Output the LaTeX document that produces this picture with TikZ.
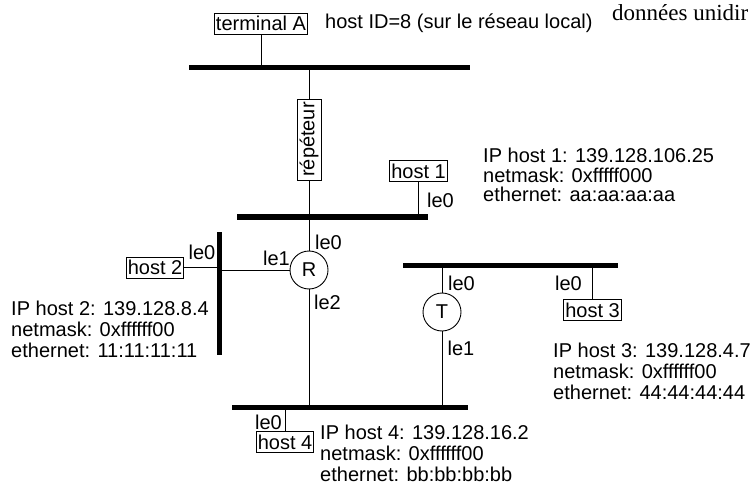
\documentclass[tikz,border=0pt]{standalone}
\usepackage{fontspec}
\setmainfont{Liberation Sans}
\newfontfamily\seriffam{Liberation Serif}
\begin{document}
\begin{tikzpicture}[x=1pt, y=-1pt,
    font=\fontsize{20}{21}\selectfont,
    boite/.style={draw, rectangle, inner sep=1.5pt, minimum height=21pt, line width=0.8pt},
    bus/.style={line width=5pt},
    lien/.style={line width=0.9pt},
    routeur/.style={draw, circle, minimum size=38pt, inner sep=0pt, line width=0.9pt},
    iface/.style={inner sep=0pt},
    info/.style={inner sep=0pt, anchor=north west, align=left, font=\fontsize{20}{#1}\selectfont},
    info/.default=21]
\useasboundingbox (0,0) rectangle (751,486);
% Reseau du haut
\coordinate (b1w) at (189,68);
\coordinate (b1e) at (470,68);
\draw[bus] (b1w) -- (b1e);
\node[boite] (termA) at (261,23.5) {terminal A};
\draw[lien] (termA) -- (termA |- b1w);
\node[iface, anchor=west] (hostid) at (325,23) {host ID=8 (sur le réseau local)};
\node[iface, anchor=base west, font=\fontsize{23}{24}\seriffam] (donnees) at (612,21) {données unidir};
% Repeteur
\node[boite, rotate=90, minimum height=24pt, minimum width=81pt] (rep) at (309,139.5) {répéteur};
\coordinate (b2w) at (237,217);
\coordinate (b2e) at (428,217);
\draw[bus] (b2w) -- (b2e);
\draw[lien] (rep) -- (rep |- b1w);
\draw[lien] (rep) -- (rep |- b2w);
% host 1
\node[boite] (h1) at (418.5,171) {host 1};
\draw[lien] (h1) -- (h1 |- b2w);
\node[iface] (h1le0) at (440.5,200) {le0};
\node[info=19.5] (h1ip) at (483,148) {IP host 1: 139.128.106.25\\netmask: 0xfffff000\\ethernet: aa:aa:aa:aa};
% Routeur R
\node[routeur] (R) at (309,270) {R};
\draw[lien] (R) -- (R |- b2w);
\node[iface] (Rle0) at (328.5,242) {le0};
\node[iface] (Rle1) at (276.5,258) {le1};
\node[iface] (Rle2) at (327.5,302) {le2};
% Reseau de host 2
\coordinate (b3n) at (219.5,232);
\coordinate (b3s) at (219.5,355);
\draw[bus] (b3n) -- (b3s);
\draw[lien] (R) -- (R -| b3n);
\node[boite] (h2) at (155,267.5) {host 2};
\draw[lien] (h2) -- (h2 -| b3n);
\node[iface] (h2le0) at (202,252) {le0};
\node[info=21] (h2ip) at (11,301) {IP host 2: 139.128.8.4\\netmask: 0xffffff00\\ethernet: 11:11:11:11};
% Reseau de host 3
\coordinate (b4w) at (403,265);
\coordinate (b4e) at (618,265);
\draw[bus] (b4w) -- (b4e);
\node[routeur] (T) at (442,312) {T};
\draw[lien] (T) -- (T |- b4w);
\node[iface] (Tle0) at (461.5,283) {le0};
\node[iface] (Tle1) at (461,348) {le1};
\node[boite] (h3) at (592.5,310) {host 3};
\draw[lien] (h3) -- (h3 |- b4w);
\node[iface] (h3le0) at (568.5,283) {le0};
\node[info=21] (h3ip) at (553,343) {IP host 3: 139.128.4.7\\netmask: 0xffffff00\\ethernet: 44:44:44:44};
% Reseau du bas
\coordinate (b5w) at (232,407);
\coordinate (b5e) at (468,407);
\draw[bus] (b5w) -- (b5e);
\draw[lien] (R) -- (R |- b5w);
\draw[lien] (T) -- (T |- b5w);
\node[boite] (h4) at (285,442) {host 4};
\draw[lien] (h4) -- (h4 |- b5w);
\node[iface] (h4le0) at (268.5,422) {le0};
\node[info=21] (h4ip) at (320,425) {IP host 4: 139.128.16.2\\netmask: 0xffffff00\\ethernet: bb:bb:bb:bb};
\end{tikzpicture}
\end{document}
